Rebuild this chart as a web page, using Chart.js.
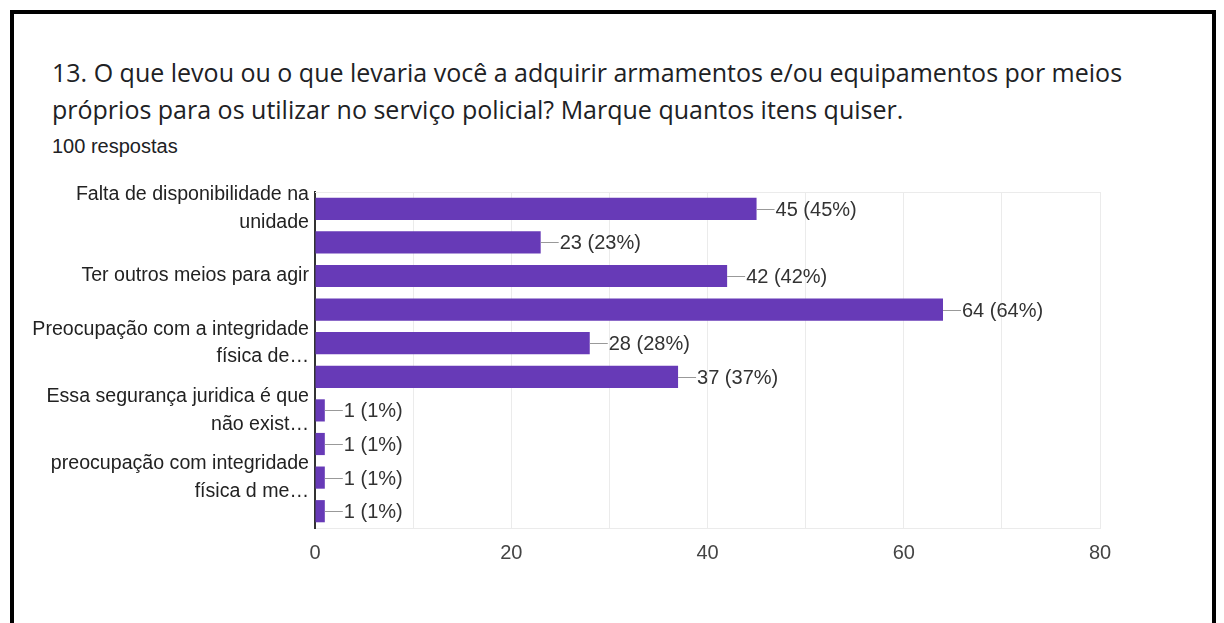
<!DOCTYPE html>
<html>
<head>
<meta charset="utf-8">
<script src="https://cdn.jsdelivr.net/npm/chart.js@4.4.0/dist/chart.umd.min.js"></script>
<style>
    html, body { margin: 0; padding: 0; background: #fff; overflow: hidden; }
    body { width: 1224px; height: 623px; position: relative; }
    .frame { position: absolute; left: 10px; top: 10px; width: 1198px; height: 640px; border: 4px solid #000; border-bottom: none; }
    .titulo { position: absolute; left: 52px; top: 54px; font-family: "Open Sans", sans-serif; font-size: 25px; line-height: 37px; color: #202124; white-space: nowrap; }
    .respostas { position: absolute; left: 52px; top: 135px; font-family: "Liberation Sans", Arial, sans-serif; font-size: 20px; color: #202124; }
    #chart-wrap { position: absolute; left: 0; top: 0; width: 1224px; height: 623px; }
</style>
</head>
<body>
<div class="frame"></div>
<div class="titulo">13. O que levou ou o que levaria você a adquirir armamentos e/ou equipamentos por meios<br>próprios para os utilizar no serviço policial? Marque quantos itens quiser.</div>
<div class="respostas">100 respostas</div>
<div id="chart-wrap"><canvas id="chart-motivos" width="1224" height="623"></canvas></div>
<script>
// categorias (as linhas sem rótulo ficam vazias no eixo)
const categorias = [
    ['Falta de disponibilidade na', 'unidade'],
    '',
    'Ter outros meios para agir',
    '',
    ['Preocupação com a integridade', 'física de…'],
    '',
    ['Essa segurança juridica é que', 'não exist…'],
    '',
    ['preocupação com integridade', 'física d me…'],
    ''
];
const respostas = [45, 23, 42, 64, 28, 37, 1, 1, 1, 1];
const totalRespostas = 100;
const ticksX = [0, 20, 40, 60, 80];

const fonte = '"Liberation Sans", Arial, sans-serif';

// linha curta + texto "n (n%)" na ponta de cada barra
const rotuloValor = {
    id: 'rotuloValor',
    afterDatasetsDraw(chart) {
        const ctx = chart.ctx;
        const meta = chart.getDatasetMeta(0);
        ctx.save();
        // borda superior da área do gráfico
        ctx.strokeStyle = '#ebebeb';
        ctx.lineWidth = 1;
        ctx.beginPath();
        ctx.moveTo(chart.chartArea.left, chart.chartArea.top + 0.5);
        ctx.lineTo(chart.chartArea.right, chart.chartArea.top + 0.5);
        ctx.stroke();

        ctx.font = '20px ' + fonte;
        ctx.textBaseline = 'middle';
        meta.data.forEach((bar, i) => {
            const v = respostas[i];
            const x = bar.x;
            const y = Math.round(bar.y) + 0.5;
            ctx.strokeStyle = '#999';
            ctx.beginPath();
            ctx.moveTo(x, y);
            ctx.lineTo(x + 18, y);
            ctx.stroke();
            ctx.fillStyle = '#333';
            const pct = Math.round(v / totalRespostas * 100);
            ctx.fillText(v + ' (' + pct + '%)', x + 19, y + 1);
        });
        ctx.restore();
    }
};

var chartMotivos = new Chart(document.getElementById('chart-motivos'), {
    type: 'bar',
    data: {
        labels: categorias,
        datasets: [{
            data: respostas,
            backgroundColor: '#673ab7',
            borderWidth: 0,
            categoryPercentage: 1,
            barPercentage: 0.66
        }]
    },
    options: {
        indexAxis: 'y',
        responsive: false,
        animation: false,
        maintainAspectRatio: false,
        layout: { padding: { top: 192, right: 124, left: 0, bottom: 0 } },
        plugins: {
            legend: { display: false },
            tooltip: { enabled: false }
        },
        scales: {
            x: {
                min: 0,
                max: 80,
                ticks: {
                    stepSize: 10,
                    padding: 13,
                    color: '#444',
                    font: { family: fonte, size: 20 },
                    callback: (v) => ticksX.includes(v) ? v : ''
                },
                grid: { color: '#ebebeb', drawTicks: false },
                border: { color: '#ebebeb' },
                afterFit: (scale) => { scale.height = 95; }
            },
            y: {
                ticks: {
                    autoSkip: false,
                    padding: 6,
                    color: '#222',
                    font: { family: fonte, size: 19.6, lineHeight: 1.4 }
                },
                grid: { display: false, drawTicks: false },
                border: { color: '#333', width: 2 },
                afterFit: (scale) => { scale.width = 315; }
            }
        }
    },
    plugins: [rotuloValor]
});
</script>
</body>
</html>
